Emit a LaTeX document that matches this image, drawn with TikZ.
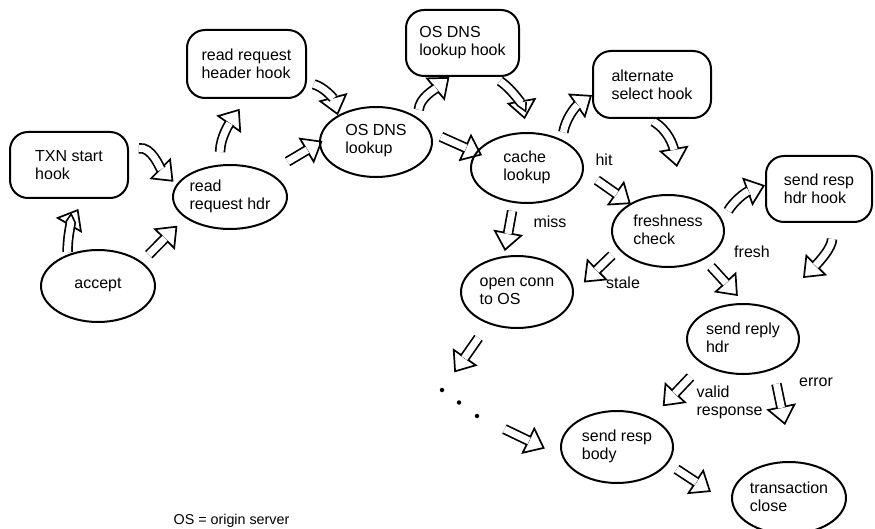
\documentclass[tikz,border=0pt]{standalone}
\usepackage{fontspec}
\setmainfont{Liberation Sans}
\usetikzlibrary{arrows.meta,shapes.geometric,backgrounds}

\tikzset{
  txt/.style={font=\fontsize{16}{18}\selectfont, align=left},
  hook/.style={txt, draw, line width=2pt, rounded corners=18pt, inner sep=0pt},
  stage/.style={draw, ellipse, line width=2pt, inner sep=0pt},
  caption/.style={txt, yshift=1pt},
  edgelabel/.style={txt, inner sep=0pt},
  dot/.style={circle, fill=black, inner sep=0pt, minimum size=4.5pt},
  % hollow double-shafted arrow: #1 = gap at the start, #2 = gap at the tip
  flow/.style 2 args={draw=white, line width=0.2pt,
     shorten <=#1, shorten >=#2,
     -{Triangle[open, fill=white, color=black, length=19pt, width=30pt, line width=1.7pt]},
     postaction={draw=black, -, line width=1.7pt, double=white, double distance=7pt,
                 shorten <=#1, shorten >=#2+17.5pt}},
}

\begin{document}
\begin{tikzpicture}[x=1pt, y=1pt]
\useasboundingbox (0,0) rectangle (875,-529);

% hook boxes
\node[hook, minimum width=118pt, minimum height=66pt] (txn) at (69,-165) {TXN start\\hook};
\node[hook, minimum width=119pt, minimum height=68pt] (rrhook) at (246.5,-64) {read request\\header hook};
\node[hook, minimum width=113pt, minimum height=66pt] (dnshook) at (462.5,-43) {OS DNS\\lookup hook};
\node[hook, minimum width=118pt, minimum height=67pt] (althook) at (652,-84.5) {alternate\\select hook};
\node[hook, minimum width=106pt, minimum height=66pt] (resphook) at (819,-189) {send resp\\hdr hook};

% processing states
\node[stage, minimum width=114pt, minimum height=72pt, label={[caption]center:accept}] (accept) at (98,-286) {};
\node[stage, minimum width=114pt, minimum height=64pt, label={[caption]center:read\\request hdr}] (rrh) at (230,-197) {};
\node[stage, minimum width=112pt, minimum height=70pt, label={[caption]center:OS DNS\\lookup}] (dns) at (376,-142) {};
\node[stage, minimum width=112pt, minimum height=70pt, label={[caption]center:cache\\lookup}] (cache) at (527,-168) {};
\node[stage, minimum width=112pt, minimum height=72pt, label={[caption]center:freshness\\check}] (fresh) at (668,-231) {};
\node[stage, minimum width=112pt, minimum height=72pt, label={[caption]center:open conn\\to OS}] (open) at (517,-292) {};
\node[stage, minimum width=112pt, minimum height=70pt, label={[caption]center:send reply\\hdr}] (reply) at (743,-339) {};
\node[stage, minimum width=112pt, minimum height=72pt, label={[caption]center:send resp\\body}] (body) at (617,-447) {};
\node[stage, minimum width=114pt, minimum height=72pt, label={[caption]center:transaction\\close}] (close) at (789,-498) {};

% elided steps
\node[dot] (dot1) at (442,-390) {};
\node[dot] (dot2) at (459,-402.5) {};
\node[dot] (dot3) at (477,-416) {};

% free arrow ends
\coordinate (altend) at (677,-167);
\coordinate (hookend) at (803,-278);
\coordinate (errend) at (785,-425);

% branch labels
\node[edgelabel] (lhit) at (604,-160) {hit};
\node[edgelabel] (lmiss) at (550,-222) {miss};
\node[edgelabel] (lstale) at (623,-283) {stale};
\node[edgelabel] (lfresh) at (752,-252) {fresh};
\node[edgelabel] (lvalid) at (729.5,-402) {valid\\response};
\node[edgelabel] (lerror) at (816,-382) {error};
\node[txt, font=\fontsize{14.3}{16}\selectfont] (legend) at (231.5,-521) {OS = origin server};

\begin{scope}[on background layer]
\draw[flow={2.5pt}{11.5pt}] (accept.134) to[out=90,in=240] (txn.-66);
\draw[flow={10pt}{4pt}] (txn.14) to[out=10,in=135] (rrh.167);
\draw[flow={10pt}{11pt}] (accept.29) -- (rrh.205);
\draw[flow={12.5pt}{12pt}] (rrh.107) to[out=90,in=235] (rrhook.south);
\draw[flow={7pt}{0pt}] (rrhook.343) to[out=-15,in=105] (dns.145);
\draw[flow={21.5pt}{-4pt}] (rrh.32) -- (dns.181);
\draw[flow={8pt}{0pt}] (dns.30) to[out=85,in=220] (dnshook.249);
\draw[flow={7pt}{13pt}] (dnshook.313) to[out=-35,in=100] (cache.north);
\draw[flow={11pt}{-7pt}] (dns.10) -- (cache.163);
\draw[flow={7.5pt}{0pt}] (cache.39) to[out=80,in=215] (althook.190);
\draw[flow={5pt}{0pt}] (althook.265) to[out=-30,in=100] (altend);
\draw[flow={16pt}{-1pt}] (cache.-3) -- (fresh.144);
\draw[flow={8pt}{5pt}] (cache.249) -- (open.110);
\draw[flow={9pt}{13.7pt}] (fresh.200) -- (open.0);
\draw[flow={11pt}{0pt}] (fresh.11) to[out=60,in=200] (resphook.176);
\draw[flow={16pt}{0pt}] (resphook.291) to[out=-90,in=45] (hookend);
\draw[flow={9.7pt}{9.5pt}] (fresh.322) -- (reply.88);
\draw[flow={17pt}{19pt}] (open.228) -- (dot1);
\draw[flow={28pt}{19pt}] (dot3) -- (body.190);
\draw[flow={17.5pt}{15.8pt}] (reply.212) -- (body.40);
\draw[flow={14.7pt}{0pt}] (reply.315) -- (errend);
\draw[flow={10.3pt}{25.6pt}] (body.342) -- (close.188);
\end{scope}
\end{tikzpicture}
\end{document}
